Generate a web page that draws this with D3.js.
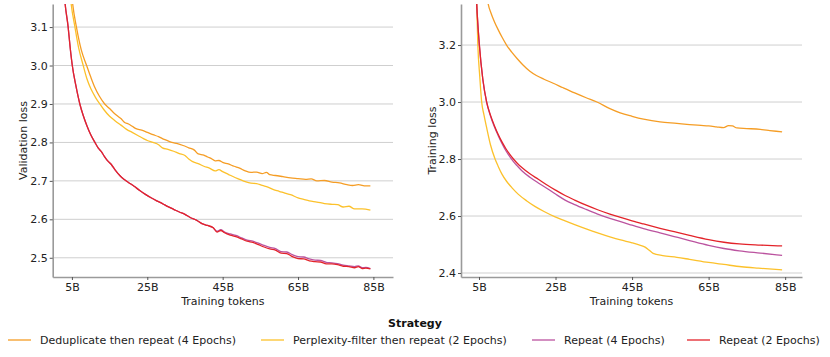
<!DOCTYPE html>
<html>
<head>
<meta charset="utf-8">
<script src="https://cdn.jsdelivr.net/npm/d3@7"></script>
<style>
  body { margin: 0; background: #fff; }
  svg { display: block; font-family: "DejaVu Sans", sans-serif; }
</style>
</head>
<body>
<svg id="chart" width="830" height="357"></svg>
<script>
// series names and colours
var seriesNames = [
  "Deduplicate then repeat (4 Epochs)",
  "Perplexity-filter then repeat (2 Epochs)",
  "Repeat (4 Epochs)",
  "Repeat (2 Epochs)"
];
var seriesColors = ["#f59d25", "#fcc12b", "#bb539f", "#e3232a"];

// validation loss, [tokens (B), loss]
var valDedup = [[4.6,3.22],[5.2,3.16],[6.2,3.10],[7.5,3.04],[8.9,3.00],[10,2.97],[11,2.945],[12.3,2.92],[13.7,2.90],[15,2.888],[16,2.878],[17.2,2.868],[18,2.862],[19,2.852],[20,2.848],[21,2.842],[22,2.836],[23.5,2.832],[25,2.826],[26.5,2.82],[28,2.815],[29,2.81],[30,2.806],[31.5,2.80],[33,2.797],[34.5,2.792],[36,2.786],[37.5,2.78],[38.5,2.77],[40,2.767],[41,2.762],[42,2.758],[43,2.752],[44,2.753],[45,2.748],[46.5,2.744],[48,2.738],[49.5,2.733],[51,2.726],[52.5,2.722],[54,2.723],[55.5,2.719],[56.6,2.722],[57.5,2.716],[59,2.714],[61,2.711],[63,2.708],[65,2.706],[67,2.704],[68.5,2.705],[70,2.70],[72,2.701],[74,2.697],[76,2.695],[78,2.69],[79.5,2.688],[81,2.69],[83,2.687],[84.2,2.687]];
var valPerplexity = [[4.2,3.22],[4.8,3.16],[5.8,3.10],[6.8,3.045],[8.0,3.00],[9,2.965],[10,2.94],[11.2,2.918],[12.4,2.90],[13.5,2.885],[15,2.868],[16.5,2.856],[18,2.845],[19.5,2.834],[21,2.826],[22.5,2.818],[24,2.81],[25,2.805],[26.5,2.80],[28,2.794],[29,2.786],[30.5,2.782],[32,2.777],[33.5,2.771],[35,2.766],[36,2.757],[37.5,2.748],[38.5,2.745],[40,2.738],[41.5,2.733],[43,2.726],[44,2.729],[45,2.724],[46.5,2.717],[48,2.71],[49.5,2.704],[51,2.698],[52.5,2.694],[54,2.693],[55.5,2.688],[57,2.684],[58.5,2.677],[60,2.673],[61.5,2.668],[63,2.664],[65,2.656],[66.5,2.652],[68,2.648],[70,2.645],[72,2.641],[74,2.639],[75.5,2.638],[77,2.632],[78.5,2.634],[80,2.627],[82,2.627],[84.2,2.624]];
var valRepeat4 = [[2.7,3.22],[3.2,3.16],[4.0,3.10],[4.5,3.05],[5.1,3.00],[6,2.95],[7.1,2.90],[8,2.87],[9,2.843],[10,2.82],[11.1,2.80],[12,2.785],[12.8,2.776],[13.6,2.764],[14.5,2.752],[15.5,2.742],[16.5,2.728],[17.7,2.714],[18.7,2.705],[20,2.696],[21.5,2.686],[23,2.675],[24.5,2.665],[26,2.656],[27.5,2.648],[29,2.641],[30.5,2.633],[32,2.626],[33.5,2.619],[35,2.613],[36.5,2.604],[38,2.598],[39.5,2.589],[41,2.584],[42.5,2.578],[43.5,2.569],[44.5,2.573],[45.5,2.567],[47,2.562],[48.5,2.558],[50,2.552],[51.5,2.546],[53,2.543],[54.5,2.538],[56,2.532],[57.5,2.527],[59,2.524],[60.5,2.516],[62,2.515],[63.5,2.508],[65,2.503],[66.5,2.502],[68,2.497],[69.5,2.494],[71,2.493],[72.5,2.488],[74,2.487],[75.5,2.485],[77,2.481],[78.5,2.479],[80,2.477],[81,2.479],[82,2.474],[83,2.475],[84.2,2.472]];
var valRepeat2 = [[2.7,3.22],[3.2,3.16],[4.0,3.10],[4.5,3.05],[5.1,3.00],[6,2.95],[7.1,2.90],[8,2.87],[9,2.843],[10,2.82],[11.1,2.80],[12,2.785],[12.8,2.776],[13.6,2.764],[14.5,2.752],[15.5,2.742],[16.5,2.728],[17.7,2.714],[18.7,2.705],[20,2.696],[21.5,2.686],[23,2.675],[24.5,2.665],[26,2.656],[27.5,2.648],[29,2.641],[30.5,2.633],[32,2.626],[33.5,2.619],[35,2.613],[36.5,2.604],[38,2.598],[39.5,2.589],[41,2.584],[42.5,2.578],[43.5,2.567],[44.5,2.571],[45.5,2.565],[47,2.559],[48.5,2.555],[50,2.549],[51.5,2.543],[53,2.54],[54.5,2.534],[56,2.528],[57.5,2.523],[59,2.52],[60.5,2.512],[62,2.511],[63.5,2.503],[65,2.498],[66.5,2.497],[68,2.492],[69.5,2.49],[71,2.489],[72.5,2.484],[74,2.484],[75.5,2.482],[77,2.478],[78.5,2.477],[80,2.474],[81,2.477],[82,2.472],[83,2.473],[84.2,2.471]];

// training loss, [tokens (B), loss]
var trainDedup = [[6.6,3.42],[7.4,3.344],[8.2,3.31],[9,3.283],[10,3.254],[11,3.228],[12.2,3.20],[13.5,3.176],[15,3.152],[16.5,3.13],[18.3,3.108],[20,3.093],[22,3.08],[24.4,3.066],[27,3.05],[30,3.032],[33,3.015],[35.8,3.00],[39.2,2.977],[41.9,2.962],[45,2.95],[48,2.94],[52.3,2.93],[56.7,2.925],[60,2.921],[63,2.918],[65,2.916],[67,2.913],[68.9,2.91],[70.2,2.917],[71.2,2.916],[72.4,2.909],[75,2.907],[78.5,2.904],[81,2.9],[84.2,2.895]];
var trainPerplexity = [[4.1,3.42],[4.4,3.344],[4.7,3.20],[5.2,3.09],[5.7,3.00],[6.3,2.955],[7,2.91],[8,2.85],[9.2,2.80],[10,2.775],[11,2.747],[12.2,2.722],[13.7,2.698],[15.3,2.676],[17.5,2.653],[19.6,2.634],[22,2.616],[24.9,2.597],[27.5,2.583],[30,2.57],[33,2.555],[36,2.541],[39.2,2.527],[42,2.516],[45,2.506],[47,2.498],[48.4,2.491],[49.3,2.482],[50.5,2.469],[53,2.461],[56.7,2.455],[60,2.448],[65,2.437],[69,2.43],[73.6,2.422],[78,2.417],[84.2,2.411]];
var trainRepeat4 = [[4.15,3.42],[4.4,3.344],[5.1,3.20],[6,3.08],[7.0,3.00],[8,2.951],[9,2.914],[10,2.883],[11,2.855],[12,2.83],[13,2.809],[14,2.791],[15,2.776],[16.2,2.759],[18.3,2.736],[20.5,2.716],[23,2.695],[25,2.677],[27.5,2.656],[30,2.64],[33,2.623],[36,2.607],[39.2,2.592],[42,2.58],[45,2.568],[48,2.556],[52.3,2.541],[56,2.528],[60,2.514],[65,2.497],[69,2.486],[73,2.478],[78.5,2.47],[84.2,2.462]];
var trainRepeat2 = [[4.15,3.42],[4.4,3.344],[5.1,3.20],[6,3.08],[7.0,3.00],[8,2.954],[9,2.918],[10,2.887],[11,2.86],[12,2.837],[13,2.817],[14,2.80],[15,2.785],[16.2,2.77],[18.3,2.748],[20.5,2.729],[23,2.707],[25,2.691],[27.5,2.672],[30,2.656],[33,2.638],[36,2.622],[39.2,2.607],[42,2.595],[45,2.583],[48,2.572],[52.3,2.557],[56,2.545],[60,2.532],[65,2.517],[69,2.508],[73,2.502],[78.5,2.498],[84.2,2.495]];

var xTicks = [5, 25, 45, 65, 85];
var valTicks = [2.5, 2.6, 2.7, 2.8, 2.9, 3.0, 3.1];
var trainTicks = [2.4, 2.6, 2.8, 3.0, 3.2];

var svg = d3.select("#chart");

function drawPanel(opts) {
  var xScale = d3.scaleLinear().domain(opts.xDomain).range([opts.left, opts.right]);
  var yScale = d3.scaleLinear().domain(opts.yDomain).range([277, 4]);

  var g = svg.append("g");

  // grid
  g.selectAll(".grid")
    .data(opts.yTicks)
    .enter()
    .append("line")
    .attr("x1", opts.left)
    .attr("x2", opts.right)
    .attr("y1", function (d) { return yScale(d); })
    .attr("y2", function (d) { return yScale(d); })
    .style("stroke", "#cfcfcf")
    .style("stroke-width", 1);

  g.append("clipPath")
    .attr("id", opts.id)
    .append("rect")
    .attr("x", opts.left)
    .attr("y", 4)
    .attr("width", opts.right - opts.left)
    .attr("height", 273);

  var line = d3.line()
    .curve(d3.curveMonotoneX)
    .x(function (d) { return xScale(d[0]); })
    .y(function (d) { return yScale(d[1]); });

  for (var i = 0; i < opts.series.length; i++) {
    g.append("path")
      .attr("clip-path", "url(#" + opts.id + ")")
      .attr("d", line(opts.series[i]))
      .style("fill", "none")
      .style("stroke", seriesColors[i])
      .style("stroke-width", 1.3)
      .style("stroke-linejoin", "round");
  }

  var xAxis = d3.axisBottom(xScale)
    .tickValues(xTicks)
    .tickFormat(function (d) { return d + "B"; })
    .tickSize(3)
    .tickSizeOuter(0)
    .tickPadding(3);
  var yAxis = d3.axisLeft(yScale)
    .tickValues(opts.yTicks)
    .tickFormat(d3.format(".1f"))
    .tickSize(3)
    .tickSizeOuter(0)
    .tickPadding(2);

  var gx = g.append("g").attr("transform", "translate(0,277)").call(xAxis);
  var gy = g.append("g").attr("transform", "translate(" + opts.left + ",0)").call(yAxis);
  [gx, gy].forEach(function (a) {
    a.select(".domain").style("stroke", "#9a9a9a").style("stroke-width", 1.6);
    a.selectAll(".tick line").style("stroke", "#555");
    a.selectAll(".tick text")
      .style("font-size", "11px")
      .style("font-family", "DejaVu Sans, sans-serif")
      .style("fill", "#222");
  });

  g.append("text")
    .attr("x", (opts.left + opts.right) / 2)
    .attr("y", 304.5)
    .attr("text-anchor", "middle")
    .style("font-size", "11px")
    .style("fill", "#222")
    .text("Training tokens");

  g.append("text")
    .attr("text-anchor", "middle")
    .attr("transform", "translate(" + opts.labelX + ",140.5)rotate(-90)")
    .style("font-size", "11px")
    .style("fill", "#222")
    .text(opts.yLabel);
}

drawPanel({
  id: "clipVal",
  left: 52.7,
  right: 393,
  xDomain: [-0.1, 90.2],
  yDomain: [2.45, 3.16],
  yTicks: valTicks,
  yLabel: "Validation loss",
  labelX: 27,
  series: [valDedup, valPerplexity, valRepeat4, valRepeat2]
});

drawPanel({
  id: "clipTrain",
  left: 461,
  right: 802,
  xDomain: [0.3, 89.4],
  yDomain: [2.386, 3.344],
  yTicks: trainTicks,
  yLabel: "Training loss",
  labelX: 436,
  series: [trainDedup, trainPerplexity, trainRepeat4, trainRepeat2]
});

// legend
svg.append("text")
  .attr("x", 415)
  .attr("y", 327)
  .attr("text-anchor", "middle")
  .style("font-size", "11px")
  .style("font-weight", "bold")
  .style("fill", "#111")
  .text("Strategy");

var legendX = [8, 261, 532, 687];
for (var i = 0; i < seriesNames.length; i++) {
  svg.append("line")
    .attr("x1", legendX[i])
    .attr("x2", legendX[i] + 23)
    .attr("y1", 340)
    .attr("y2", 340)
    .style("stroke", seriesColors[i])
    .style("stroke-width", 1.3);
  svg.append("text")
    .attr("x", legendX[i] + 32)
    .attr("y", 344)
    .style("font-size", "11px")
    .style("fill", "#222")
    .text(seriesNames[i]);
}
</script>
</body>
</html>
